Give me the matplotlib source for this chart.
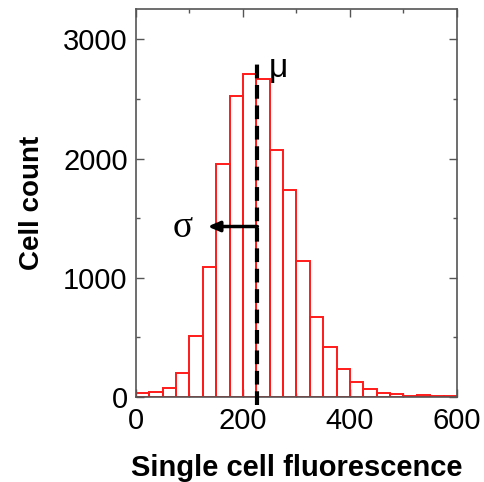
import numpy as np
import matplotlib
matplotlib.use("Agg")
import matplotlib.pyplot as plt
from matplotlib.ticker import MultipleLocator

plt.rcParams['font.family'] = ['Liberation Sans', 'DejaVu Sans']

# Histogram of single-cell fluorescence (bin width 25)
bin_edges = np.arange(0, 625, 25)
cell_counts = [31, 44, 78, 200, 514, 1092, 1953, 2523, 2705, 2663, 2070, 1735,
               1143, 673, 422, 235, 126, 67, 36, 25, 11, 19, 10, 7]
mean_value = 227
sigma_left = 134
arrow_y = 1430
dash_top = 2800
dash_bottom = -65

x_ticks = [0, 200, 400, 600]
y_ticks = [0, 1000, 2000, 3000]

fig = plt.figure(figsize=(4.84, 4.82), dpi=100)
ax = fig.add_axes([0.281, 0.1763, 0.663, 0.804])

ax.bar(bin_edges[:-1], cell_counts, width=25, align='edge',
       facecolor='none', edgecolor='#ff1a1a', linewidth=1.4, zorder=2)

ax.set_xlim(0, 600)
ax.set_ylim(0, 3250)
ax.set_xticks(x_ticks)
ax.set_yticks(y_ticks)
ax.xaxis.set_minor_locator(MultipleLocator(100))
ax.yaxis.set_minor_locator(MultipleLocator(500))
ax.tick_params(which='both', direction='in', top=True, right=True,
               color='#555555', width=1)
ax.tick_params(which='major', length=6, labelsize=21)
ax.tick_params(axis='x', which='major', pad=7)
ax.tick_params(axis='y', which='major', pad=6)
ax.tick_params(which='minor', length=3)
for s in ax.spines.values():
    s.set_color('#555555')
    s.set_linewidth(1.2)

# mean marker and spread arrow
ax.plot([mean_value, mean_value], [dash_bottom, dash_top], color='black',
        linewidth=3, linestyle=(0, (3.3, 1.6)), clip_on=False, zorder=3)
ax.annotate('', xy=(sigma_left, arrow_y), xytext=(mean_value, arrow_y),
            arrowprops=dict(arrowstyle='-|>,head_length=0.7,head_width=0.3',
                            color='black', lw=2.5, shrinkA=0, shrinkB=0),
            zorder=4)
ax.text(266, 2757, 'μ', fontsize=24, ha='center', va='center')
ax.text(87, 1416, 'σ', fontsize=27, ha='center', va='center',
        family=['Liberation Serif', 'DejaVu Serif'])

ax.set_xlabel('Single cell fluorescence', fontsize=21, fontweight='bold', labelpad=14)
ax.set_ylabel('Cell count', fontsize=20, fontweight='bold', labelpad=13)

fig.savefig('out.png', dpi=100)
